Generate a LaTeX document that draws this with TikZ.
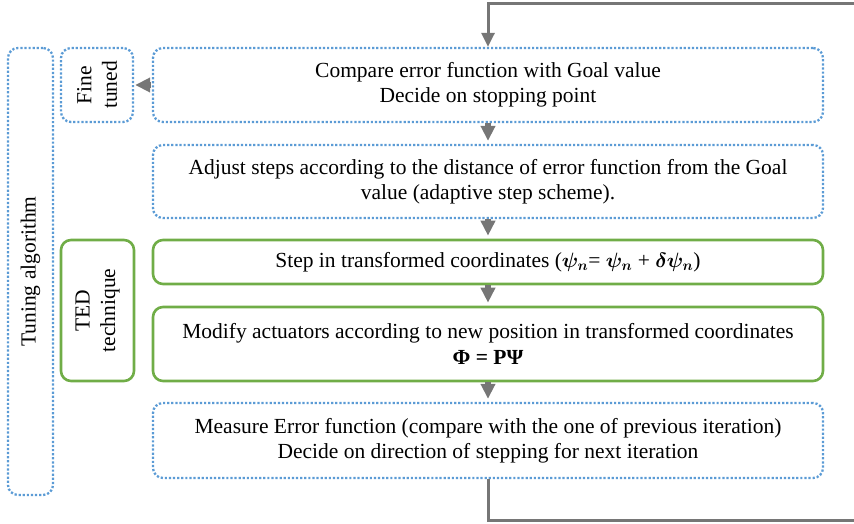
\documentclass[tikz,border=0pt]{standalone}
\usepackage{amsmath}
\usepackage{fontspec}
\setmainfont{Liberation Serif}
\usetikzlibrary{arrows.meta}
\definecolor{dotblue}{HTML}{5B9BD5}
\definecolor{tedgreen}{HTML}{70AD47}
\definecolor{arrgray}{HTML}{767676}
\begin{document}
\begin{tikzpicture}[x=1pt,y=-1pt,
  every node/.style={font=\fontsize{21.5}{25.5}\selectfont, inner sep=0pt},
  bluebox/.style={draw=dotblue, line width=2.3pt, dash pattern=on 2.2pt off 1.9pt, rounded corners=10pt, align=center},
  greenbox/.style={draw=tedgreen, line width=2.6pt, rounded corners=10pt, align=center},
  vlabel/.style={rotate=90, align=center},
  blockflow/.style={draw=arrgray, line width=5.5pt, -{Triangle[width=14pt,length=15pt]}},
  flow/.style={draw=arrgray, line width=3pt, -{Triangle[width=13pt,length=14pt]}},
  plainflow/.style={draw=arrgray, line width=3pt}]
\useasboundingbox (0,0) rectangle (854,524);

% left frames
\node[bluebox, minimum width=45pt, minimum height=447pt] (tune) at (30.5,271.5) {};
\node[vlabel] (tunelbl) at (tune.center) {Tuning algorithm};
\node[bluebox, minimum width=72pt, minimum height=74pt] (fine) at (97,85) {};
\node[vlabel] (finelbl) at (fine.center) {Fine\\tuned};
\node[greenbox, minimum width=73pt, minimum height=141pt] (ted) at (97.5,310.5) {};
\node[vlabel] (tedlbl) at (ted.center) {TED\\technique};

% main column
\node[bluebox, minimum width=670pt, minimum height=74pt] (b1) at (488,85)
  {Compare error function with Goal value\\Decide on stopping point};
\node[bluebox, minimum width=670pt, minimum height=73pt] (b2) at (488,181.5)
  {Adjust steps according to the distance of error function from the Goal\\value (adaptive step scheme).};
\node[greenbox, minimum width=670pt, minimum height=44pt] (b3) at (488,262)
  {Step in transformed coordinates ($\boldsymbol{\psi_n}$= $\boldsymbol{\psi_n}$ + $\boldsymbol{\delta\psi_n}$)};
\node[greenbox, minimum width=670pt, minimum height=74pt] (b4) at (488,344)
  {Modify actuators according to new position in transformed coordinates\\\textbf{Φ = PΨ}};
\node[bluebox, minimum width=670pt, minimum height=75pt] (b5) at (488,440.5)
  {Measure Error function (compare with the one of previous iteration)\\Decide on direction of stepping for next iteration};

% connectors
\coordinate (tr) at (854,4);
\coordinate (br) at (854,520);
\draw[flow] (tr) -| (b1.north);
\draw[blockflow] ([xshift=-1pt]b1.west) -- ([xshift=1pt]fine.east);
\draw[blockflow] (b1.south) -- ([yshift=3pt]b2.north);
\draw[blockflow] (b2.south) -- ([yshift=3pt]b3.north);
\draw[blockflow] (b3.south) -- ([yshift=3pt]b4.north);
\draw[blockflow] (b4.south) -- ([yshift=3pt]b5.north);
\draw[plainflow] (b5.south) |- (br);
\end{tikzpicture}
\end{document}
